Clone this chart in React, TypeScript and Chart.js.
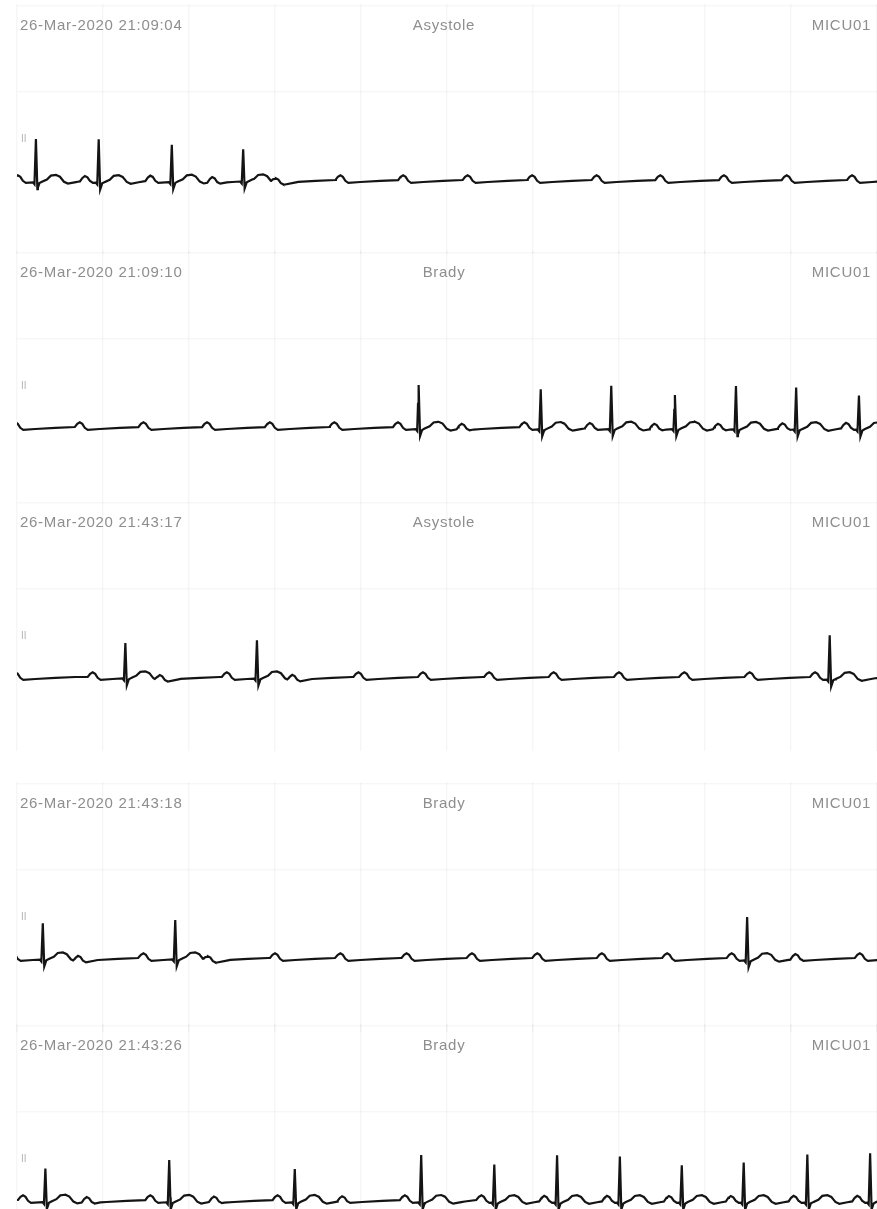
import React, { useEffect, useRef } from "react";
import { Chart, registerables } from "chart.js";

Chart.register(...registerables);

// ---------- header texts ----------
const stripTimes = [
  "26-Mar-2020 21:09:04",
  "26-Mar-2020 21:09:10",
  "26-Mar-2020 21:43:17",
  "26-Mar-2020 21:43:18",
  "26-Mar-2020 21:43:26",
];
const stripEvents = ["Asystole", "Brady", "Asystole", "Brady", "Brady"];
const bedLabel = "MICU01";
const leadLabel = "II";

// ---------- beat data (seconds, mV) read from the strips ----------
const pWaves1 = [0.01, 0.79, 1.55, 2.27, 3.01, 3.76, 4.49, 5.24, 5.99, 6.74, 7.48, 8.22, 8.95, 9.71];
const rPeaks1 = [0.22, 0.95, 1.8, 2.63];
const rAmps1 = [1.08, 1.08, 0.93, 0.8];

const pWaves2 = [-0.02, 0.73, 1.47, 2.21, 2.94, 3.69, 4.43, 5.17, 5.9, 6.66, 7.41, 8.15, 8.9, 9.64];
const rPeaks2 = [4.67, 6.09, 6.91, 7.65, 8.36, 9.06, 9.79];
const rAmps2 = [1.1, 1.0, 1.08, 0.85, 1.08, 1.05, 0.85];

const pWaves3 = [-0.02, 0.88, 1.66, 2.44, 3.2, 3.97, 4.72, 5.49, 6.24, 7.0, 7.76, 8.52, 9.28];
const rPeaks3 = [1.26, 2.79, 9.45];
const rAmps3 = [0.88, 0.95, 1.1];

const pWaves4 = [-0.05, 0.71, 1.47, 2.22, 3.0, 3.76, 4.53, 5.29, 6.05, 6.8, 7.56, 8.31, 9.05, 9.8];
const rPeaks4 = [0.3, 1.84, 8.49];
const rAmps4 = [0.9, 0.98, 1.08];

const pWaves5 = [0.07, 0.81, 1.55, 2.29, 3.03, 3.78, 4.51, 5.4, 6.13, 6.86, 7.58, 8.3, 9.03, 9.77];
const rPeaks5 = [0.33, 1.77, 3.23, 4.7, 5.55, 6.28, 7.01, 7.73, 8.45, 9.19, 9.92];
const rAmps5 = [0.83, 1.05, 0.83, 1.18, 0.95, 1.18, 1.15, 0.93, 1.0, 1.2, 1.23];

// ---------- wave shapes (offset in s, level in mV) ----------
const pShapeDt = [-0.058, -0.029, 0, 0.029, 0.058, 0.093, 0.233, 0.465, 0.698];
const pShapeDy = [0, 0.08, 0.12, 0.08, -0.02, -0.07, -0.05, -0.02, 0];

const qrsShapeDt = [-0.035, -0.017, 0, 0.017, 0.041, 0.07, 0.128, 0.174, 0.233, 0.279, 0.326, 0.372, 0.465, 0.64];
const qrsShapeDy = [0, -0.05, 1, -0.18, -0.03, 0, 0.05, 0.14, 0.15, 0.1, -0.03, -0.08, -0.05, 0];
const R_INDEX = 2;

// horizontal paper lines (mV)
const gridLevels = [2.2, 4.35];

const strips = [
  { p: pWaves1, r: rPeaks1, a: rAmps1 },
  { p: pWaves2, r: rPeaks2, a: rAmps2 },
  { p: pWaves3, r: rPeaks3, a: rAmps3 },
  { p: pWaves4, r: rPeaks4, a: rAmps4 },
  { p: pWaves5, r: rPeaks5, a: rAmps5 },
];

// ---------- layout ----------
const W = 877;
const H = 1209;
const STRIP_H = 250;
const BASE_Y = 176; // baseline position inside a strip
const PX_PER_MV = 40;
const stripTops = [4, 251, 501, 782, 1024];

function interp(dts: number[], dys: number[], t: number): number {
  if (t <= dts[0] || t >= dts[dts.length - 1]) return 0;
  for (let i = 1; i < dts.length; i++) {
    if (t <= dts[i]) {
      const f = (t - dts[i - 1]) / (dts[i] - dts[i - 1]);
      return dys[i - 1] + f * (dys[i] - dys[i - 1]);
    }
  }
  return 0;
}

function buildTrace(p: number[], r: number[], amps: number[]) {
  const qrsDys = amps.map((a) => qrsShapeDy.map((v, i) => (i === R_INDEX ? a : v)));
  const ts = new Set<number>([-0.15, 10.15]);
  p.forEach((tp) => pShapeDt.forEach((d) => ts.add(+(tp + d).toFixed(4))));
  r.forEach((tr) => qrsShapeDt.forEach((d) => ts.add(+(tr + d).toFixed(4))));
  const sorted = Array.from(ts).sort((a, b) => a - b);
  return sorted.map((t) => {
    let y = 0;
    p.forEach((tp) => (y += interp(pShapeDt, pShapeDy, t - tp)));
    r.forEach((tr, k) => (y += interp(qrsShapeDt, qrsDys[k], t - tr)));
    return { x: t, y };
  });
}

const textFont = '"Liberation Sans", Arial, sans-serif';

export default function App() {
  const refs = useRef<(HTMLCanvasElement | null)[]>([]);

  useEffect(() => {
    const charts: Chart[] = [];
    strips.forEach((s, i) => {
      const cv = refs.current[i];
      if (!cv) return;
      const yMax = BASE_Y / PX_PER_MV;
      const yMin = -(STRIP_H - BASE_Y) / PX_PER_MV;
      charts.push(
        new Chart(cv, {
          type: "line",
          data: {
            datasets: [
              {
                data: buildTrace(s.p, s.r, s.a),
                borderColor: "#141414",
                borderWidth: 2.2,
                pointRadius: 0,
                tension: 0,
                fill: false,
              },
            ],
          },
          options: {
            animation: false,
            responsive: false,
            maintainAspectRatio: false,
            parsing: false as any,
            layout: { padding: { left: 17, right: 0, top: 0, bottom: 0 } },
            plugins: {
              legend: { display: false },
              tooltip: { enabled: false },
              title: { display: false },
            },
            scales: {
              x: {
                type: "linear",
                min: 0,
                max: 10,
                ticks: { display: false, stepSize: 1 },
                grid: { color: "rgba(0,0,0,0.035)", drawTicks: false, lineWidth: 1.5 },
                border: { display: false },
                afterFit: (sc: any) => {
                  sc.height = 0;
                },
              },
              y: {
                type: "linear",
                min: yMin,
                max: yMax,
                afterBuildTicks: (sc: any) => {
                  sc.ticks = gridLevels.map((v) => ({ value: v }));
                },
                ticks: { display: false },
                grid: { color: "rgba(0,0,0,0.03)", drawTicks: false, lineWidth: 1.5 },
                border: { display: false },
                afterFit: (sc: any) => {
                  sc.width = 0;
                },
              },
            },
          },
        })
      );
    });
    return () => charts.forEach((c) => c.destroy());
  }, []);

  const headerStyle: React.CSSProperties = {
    position: "absolute",
    top: 12,
    fontFamily: textFont,
    fontSize: 15,
    lineHeight: "18px",
    letterSpacing: "0.7px",
    color: "#8e8e8e",
    whiteSpace: "nowrap",
  };

  return (
    <div
      style={{
        position: "absolute",
        left: 0,
        top: 0,
        width: W,
        height: H,
        overflow: "hidden",
        background: "#ffffff",
        filter: "blur(0.4px)",
      }}
    >
      {strips.map((_, i) => (
        <div
          key={i}
          style={{ position: "absolute", left: 0, top: stripTops[i], width: W, height: STRIP_H }}
        >
          <canvas
            ref={(el) => {
              refs.current[i] = el;
            }}
            width={W}
            height={STRIP_H}
            style={{ position: "absolute", left: 0, top: 0, width: W, height: STRIP_H }}
          />
          <span style={{ ...headerStyle, left: 20 }}>{stripTimes[i]}</span>
          <span style={{ ...headerStyle, left: 444, transform: "translateX(-50%)" }}>
            {stripEvents[i]}
          </span>
          <span style={{ ...headerStyle, right: W - 871 }}>{bedLabel}</span>
          <span
            style={{
              position: "absolute",
              left: 21,
              top: BASE_Y - 46,
              fontFamily: textFont,
              fontSize: 10,
              lineHeight: "10px",
              color: "#b5b5b5",
            }}
          >
            {leadLabel}
          </span>
        </div>
      ))}
    </div>
  );
}
